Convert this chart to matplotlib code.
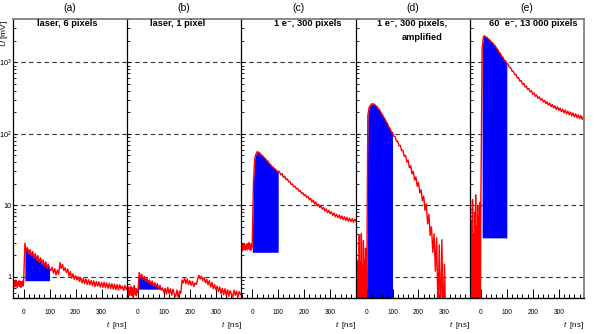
import numpy as np
import matplotlib.pyplot as plt
from matplotlib.ticker import FixedLocator, MultipleLocator, LogLocator, NullFormatter

plt.rcParams['font.family'] = ['Liberation Sans', 'DejaVu Sans']
plt.rcParams['mathtext.fontset'] = 'custom'
plt.rcParams['mathtext.rm'] = 'Liberation Sans'
plt.rcParams['mathtext.it'] = 'Liberation Sans:italic'

# time axis of the scope traces, ns (denser before the trigger)
t_ns = np.concatenate([np.arange(-40, 0, 2), np.arange(0, 401, 5)])

panel_letters = ['(a)', '(b)', '(c)', '(d)', '(e)']
panel_titles = ['laser, 6 pixels', 'laser, 1 pixel', '1 e\u207b, 300 pixels',
                '1 e\u207b, 300 pixels,', '60  e\u207b, 13 000 pixels']

# signal amplitude U [mV]
u_a = [0.82, 0.74, 0.88, 0.72, 0.80, 0.90, 0.76, 0.85, 0.70, 0.83,
       0.78, 0.88, 0.73, 0.81, 0.86, 0.71, 0.84, 0.77, 0.87, 0.74,
       0.80,
       2.95, 2.30, 2.55, 2.10, 2.40, 1.95, 2.25, 1.82, 2.10, 1.70,
       1.98, 1.58, 1.84, 1.50, 1.72, 1.40, 1.62, 1.32, 1.50, 1.30,
       1.22, 1.36, 1.12, 1.30, 1.06, 1.24, 1.08, 1.58, 1.30, 1.48,
       1.22, 1.34, 1.14, 1.28, 1.02, 1.18, 0.96, 1.10, 0.92, 1.04,
       0.90, 1.00, 0.86, 0.98, 0.82, 0.95, 0.80, 0.93, 0.78, 0.91,
       0.77, 0.89, 0.75, 0.88, 0.73, 0.86, 0.74, 0.85, 0.72, 0.83,
       0.71, 0.84, 0.70, 0.82, 0.69, 0.81, 0.68, 0.80, 0.67, 0.79,
       0.66, 0.78, 0.65, 0.77, 0.68, 0.74, 0.64, 0.76, 0.66, 0.72]
u_b = [0.66, 0.56, 0.72, 0.54, 0.64, 0.58, 0.74, 0.55, 0.62, 0.70,
       0.53, 0.67, 0.59, 0.75, 0.56, 0.63, 0.69, 0.54, 0.66, 0.60,
       0.62,
       1.15, 0.98, 1.08, 0.92, 1.01, 0.86, 0.96, 0.82, 0.90, 0.78,
       0.87, 0.74, 0.83, 0.72, 0.80, 0.68, 0.76, 0.65, 0.70, 0.60,
       0.69, 0.57, 0.71, 0.58, 0.68, 0.55, 0.67, 0.57, 0.53, 0.65,
       0.52, 0.63, 0.58, 0.90, 0.82, 0.97, 0.80, 0.93, 0.78, 0.88,
       0.76, 0.86, 0.73, 0.82, 0.78, 0.92, 1.05, 0.93, 1.02, 0.88,
       0.97, 0.82, 0.92, 0.77, 0.88, 0.72, 0.83, 0.68, 0.78, 0.66,
       0.74, 0.62, 0.72, 0.58, 0.69, 0.56, 0.68, 0.55, 0.66, 0.53,
       0.64, 0.57, 0.52, 0.65, 0.55, 0.63, 0.52, 0.62, 0.56, 0.59]
u_c = [2.60, 2.30, 2.85, 2.40, 2.95, 2.45, 2.75, 2.35, 2.80, 2.50,
       2.90, 2.38, 2.70, 2.55, 3.00, 2.42, 2.78, 2.33, 2.88, 2.50,
       2.80,
       22.0, 46.0, 53.0, 56.5, 54.5, 54.0, 50.5, 49.5, 46.5, 45.5,
       42.5, 41.5, 38.5, 37.5, 35.0, 34.5, 32.5, 32.0, 30.0, 30.0,
       29.5, 26.5, 27.8, 24.6, 25.6, 22.9, 23.4, 21.2, 21.6, 19.5,
       19.9, 18.1, 18.5, 16.9, 17.3, 15.7, 16.1, 14.6, 15.0, 13.6,
       14.1, 12.8, 13.4, 11.9, 12.5, 11.1, 11.8, 10.4, 11.1, 9.8,
       10.4, 9.3, 9.8, 8.8, 9.3, 8.3, 8.9, 7.9, 8.5, 7.6,
       8.1, 7.2, 7.8, 6.9, 7.5, 6.7, 7.3, 6.5, 7.1, 6.3,
       6.9, 6.1, 6.8, 6.0, 6.6, 5.9, 6.5, 5.8, 6.4, 6.0]
u_d = [1.6, 0.2, 1.7, 0.2, 1.5, 0.3, 3.8, 0.2, 1.6, 0.2,
       4.0, 0.2, 1.4, 0.3, 3.2, 0.2, 1.7, 0.2, 2.5, 0.2,
       0.3,
       180, 235, 250, 264, 261, 260, 248, 242, 226, 217,
       199, 190, 173, 164, 148, 141, 126, 120, 108, 104,
       93, 91, 79, 79, 68, 69, 58, 59, 48.5, 50,
       40.5, 43, 33.5, 36, 27.5, 30, 22.5, 25, 18.5, 21,
       15, 16.5, 11.5, 13.5, 8.5, 10.5, 5.5, 7.5, 3.8, 5.0,
       2.2, 4.0, 1.2, 3.5, 0.3, 2.8, 0.2, 3.3, 0.2, 1.5,
       0.2, 0.2, 0.2, 0.2, 0.2, 0.2, 0.2, 0.2, 0.2, 0.2,
       0.2, 0.2, 0.2, 0.2, 0.2, 0.2, 0.2, 0.2, 0.2, 0.2]
u_e = [9.0, 0.2, 6.0, 0.3, 12.0, 0.2, 4.0, 0.2, 8.0, 0.4,
       14.0, 0.2, 5.0, 0.2, 10.0, 0.3, 7.0, 0.2, 11.0, 0.2,
       10.0,
       1600, 2300, 2350, 2260, 2220, 2100, 2060, 1930, 1890, 1760,
       1710, 1580, 1520, 1390, 1340, 1220, 1180, 1070, 1050, 980,
       940, 850, 840, 755, 755, 675, 680, 605, 615, 545,
       560, 495, 510, 452, 468, 416, 432, 384, 400, 358,
       374, 334, 350, 314, 330, 296, 312, 280, 296, 265,
       282, 252, 270, 240, 258, 230, 248, 220, 238, 212,
       230, 204, 222, 197, 215, 190, 208, 184, 202, 178,
       196, 173, 190, 168, 185, 163, 180, 159, 175, 155]
traces = [u_a, u_b, u_c, u_d, u_e]

# integration window (start, end) in ns and baseline of the shaded area in mV
window_start = [5, 0, 0, 0, 5]
window_end = [100, 100, 100, 100, 100]
window_base = [0.88, 0.66, 2.2, 0.3, 3.5]

y_ticks = [1, 10, 100, 1000]
y_ticklabels = ['1', '10', '$10^2$', '$10^3$']
x_ticks = [0, 100, 200, 300]

fig, axes = plt.subplots(1, 5, sharey=True, figsize=(5.98, 3.34), dpi=100)
fig.subplots_adjust(left=0.0212, right=0.977, bottom=0.107, top=0.942, wspace=0)

title_x = [0.475, 0.44, 0.577, 0.493, 0.553]

for i, ax in enumerate(axes):
    u = np.array(traces[i], dtype=float)
    ax.set_yscale('log')
    ax.set_ylim(0.5, 4000)
    ax.set_xlim(-42, 398)

    for lvl in y_ticks:
        ax.axhline(lvl, color='#333333', lw=0.8, ls=(0, (4, 3)), zorder=0.5)

    win = (t_ns >= window_start[i]) & (t_ns <= window_end[i])
    tw, uw = t_ns[win], u[win]
    ax.fill_between(tw, window_base[i], uw, where=uw > window_base[i],
                    interpolate=True, color='#0000ff', lw=0, zorder=1)
    ax.plot(t_ns, u, color='#ff0000', lw=1.0, zorder=2)

    ax.xaxis.set_major_locator(FixedLocator(x_ticks))
    ax.xaxis.set_minor_locator(MultipleLocator(20))
    ax.tick_params(axis='x', which='major', direction='in', length=6.5, width=0.7,
                   labelsize=4.7, pad=7.5, top=False)
    ax.tick_params(axis='x', which='minor', direction='in', length=3.2, width=0.7, top=False)
    ax.set_yticks(y_ticks)
    ax.set_yticklabels(y_ticklabels)
    ax.yaxis.set_minor_locator(LogLocator(base=10, subs=np.arange(2, 10)))
    ax.yaxis.set_minor_formatter(NullFormatter())
    ax.tick_params(axis='y', which='both', direction='in', length=1.8, width=0.6,
                   labelsize=5.3, pad=0.8, right=False)

    ax.spines['top'].set_color('#808080')
    ax.spines['top'].set_linewidth(1.3)
    ax.spines['left'].set_color('black')
    ax.spines['left'].set_linewidth(0.9)
    ax.spines['bottom'].set_linewidth(1.0)
    if i < 4:
        ax.spines['right'].set_visible(False)
    else:
        ax.spines['right'].set_color('#808080')
        ax.spines['right'].set_linewidth(1.3)

    ax.text(0.5, 1.04, panel_letters[i], transform=ax.transAxes,
            ha='center', va='center', fontsize=7.5)
    ax.text(title_x[i], 0.986, panel_titles[i], transform=ax.transAxes,
            ha='center', va='center', fontsize=6.7, fontweight='bold')
    ax.text(1.0, -0.096, '$t$  [ns]', transform=ax.transAxes,
            ha='right', va='center', fontsize=5.7)

axes[3].text(0.584, 0.934, 'amplified', transform=axes[3].transAxes,
             ha='center', va='center', fontsize=6.7, fontweight='bold')

fig.text(5.0 / 598, 1 - 20 / 334, '$U$ [mV]', rotation=90,
         ha='center', va='top', fontsize=6.0)

fig.savefig('out.png', dpi=100)
